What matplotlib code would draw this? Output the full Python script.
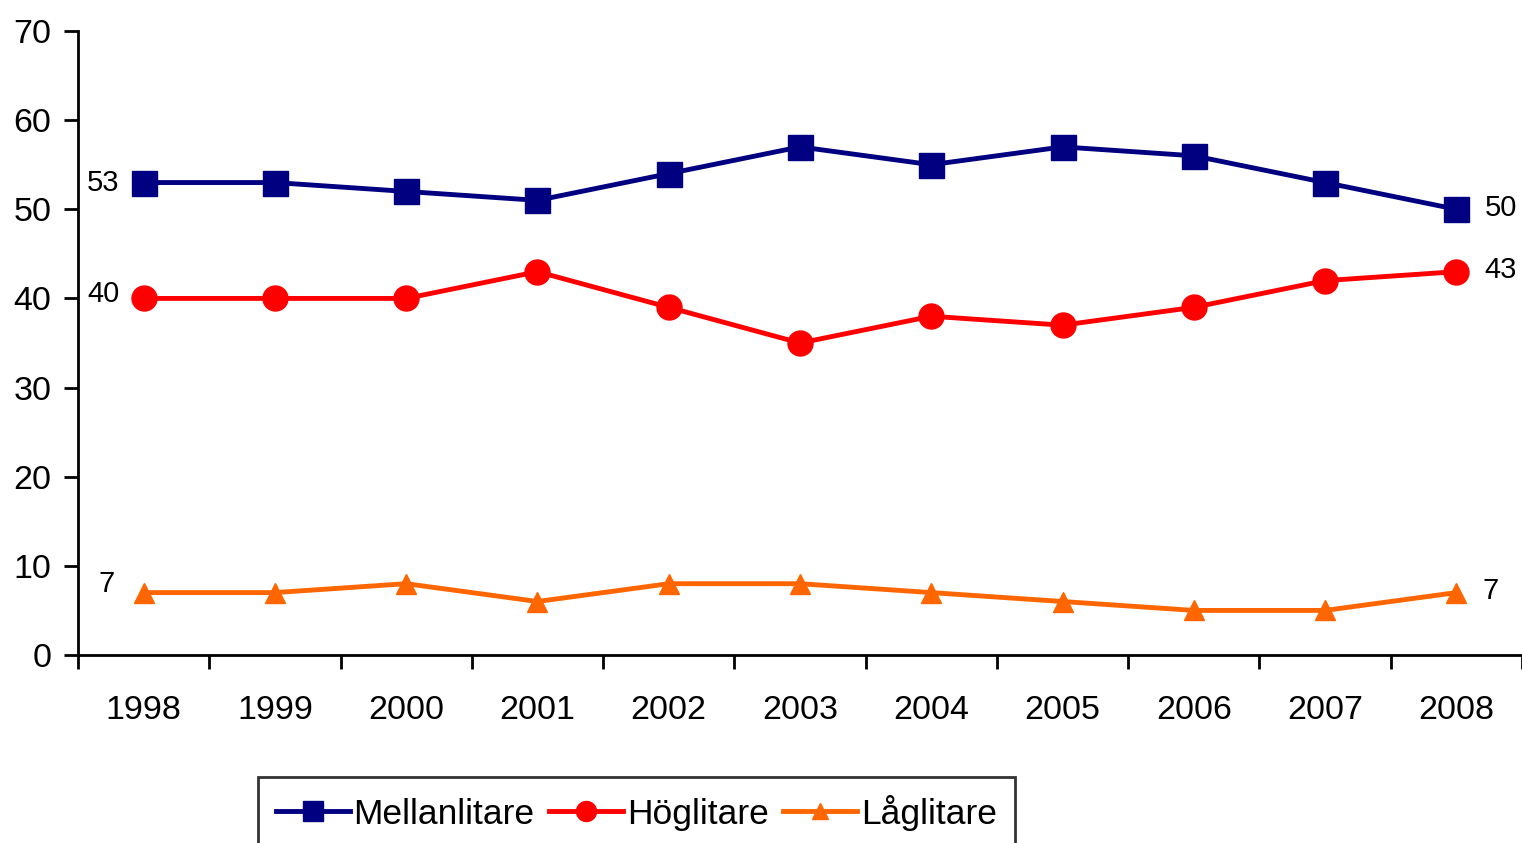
import matplotlib
matplotlib.use("Agg")
import matplotlib.pyplot as plt

years = ["1998", "1999", "2000", "2001", "2002", "2003", "2004", "2005", "2006", "2007", "2008"]
mellan = [53, 53, 52, 51, 54, 57, 55, 57, 56, 53, 50]
hog = [40, 40, 40, 43, 39, 35, 38, 37, 39, 42, 43]
lag = [7, 7, 8, 6, 8, 8, 7, 6, 5, 5, 7]
series_names = ["Mellanlitare", "Höglitare", "Låglitare"]
yticks = [0, 10, 20, 30, 40, 50, 60, 70]

plt.rcParams['font.family'] = ['Liberation Sans', 'DejaVu Sans']

fig = plt.figure(figsize=(15.22, 8.43), dpi=100)
ax = fig.add_axes([78/1522, 1-655/843, 1-78/1522, (655-31)/843])

x = list(range(len(years)))
l1, = ax.plot(x, mellan, color='#000080', lw=3.5, marker='s', ms=18, label=series_names[0], clip_on=False)
l2, = ax.plot(x, hog, color='#FF0000', lw=3.5, marker='o', ms=18, label=series_names[1], clip_on=False)
l3, = ax.plot(x, lag, color='#FF6600', lw=3.5, marker='^', ms=14, label=series_names[2], clip_on=False)

ax.set_xlim(-0.5, len(years) - 0.5)
ax.set_ylim(0, 70)
ax.set_yticks(yticks)
ax.set_yticklabels([str(v) for v in yticks])
ax.set_xticks([i - 0.5 for i in range(len(years) + 1)])
ax.set_xticklabels([])
ax.set_xticks(x, minor=True)
ax.set_xticklabels(years, minor=True)
ax.tick_params(axis='x', which='minor', length=0, pad=29, labelsize=24.5)
ax.tick_params(axis='x', which='major', direction='out', length=10, width=2)
ax.tick_params(axis='y', direction='out', length=10, width=2, labelsize=24.5, pad=9)
for s in ['top', 'right']:
    ax.spines[s].set_visible(False)
for s in ['left', 'bottom']:
    ax.spines[s].set_linewidth(2)

# end labels
fs = 21
first, last = 0, len(years) - 1
ax.annotate(str(mellan[first]), (first, mellan[first]), xytext=(-29, 0), textcoords='offset points', ha='center', va='center', fontsize=fs, annotation_clip=False)
ax.annotate(str(hog[first]), (first, hog[first]), xytext=(-29, 3), textcoords='offset points', ha='center', va='center', fontsize=fs, annotation_clip=False)
ax.annotate(str(lag[first]), (first, lag[first]), xytext=(-27, 6), textcoords='offset points', ha='center', va='center', fontsize=fs, annotation_clip=False)
ax.annotate(str(mellan[last]), (last, mellan[last]), xytext=(32, 1), textcoords='offset points', ha='center', va='center', fontsize=fs, annotation_clip=False)
ax.annotate(str(hog[last]), (last, hog[last]), xytext=(32, 1), textcoords='offset points', ha='center', va='center', fontsize=fs, annotation_clip=False)
ax.annotate(str(lag[last]), (last, lag[last]), xytext=(25, 1), textcoords='offset points', ha='center', va='center', fontsize=fs, annotation_clip=False)

leg = fig.legend(handles=[l1, l2, l3], loc='upper left', bbox_to_anchor=(258/1522, 1-777/843),
                 ncol=3, fontsize=25.5, frameon=True, fancybox=False, edgecolor='black',
                 handlelength=2.1, handletextpad=0.1, columnspacing=0.4, borderpad=0.5,
                 borderaxespad=0, markerscale=0.8)
leg.get_frame().set_linewidth(2)

fig.savefig('out.png', dpi=100)
